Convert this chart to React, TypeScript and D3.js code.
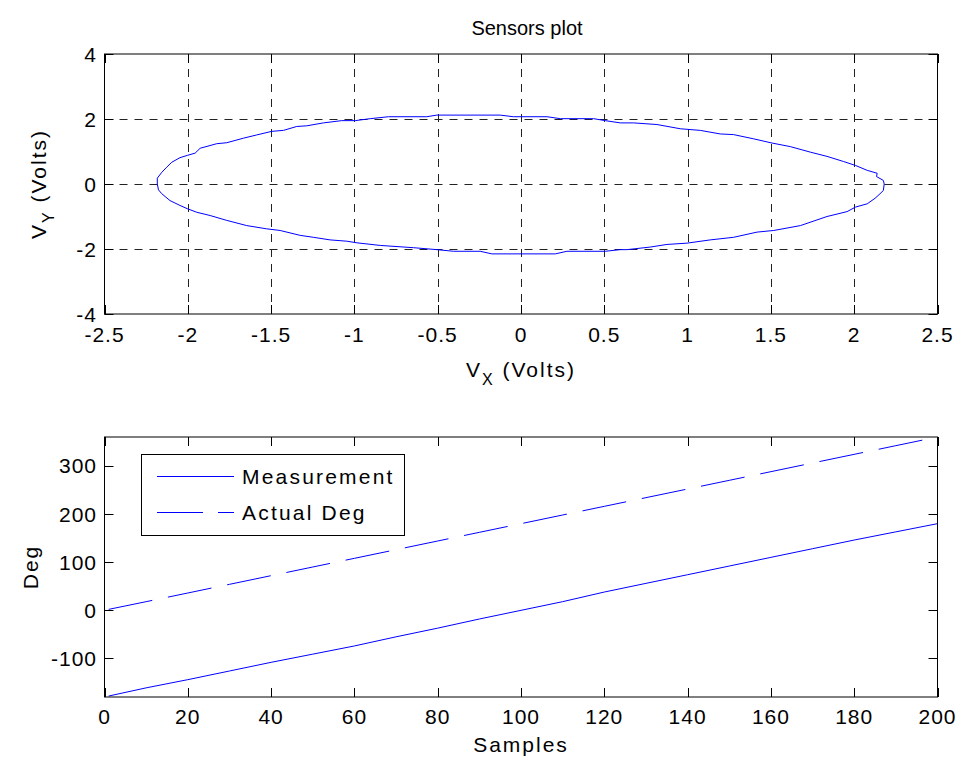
import React from 'react';
import * as d3 from 'd3';

// Sensor loop (Vx, Vy)
const vx = [2.18, 2.175, 2.134, 2.138, 2.078, 2.008, 1.937, 1.837, 1.737, 1.617, 1.507, 1.396, 1.276, 1.196, 1.076, 0.956, 0.816, 0.676, 0.596, 0.506, 0.436, 0.236, 0.156, -0.045, -0.125, -0.505, -0.566, -0.795, -0.905, -0.995, -1.076, -1.186, -1.286, -1.346, -1.426, -1.496, -1.586, -1.666, -1.766, -1.826, -1.926, -1.956, -2.003, -2.047, -2.096, -2.126, -2.156, -2.183, -2.183, -2.176, -2.156, -2.107, -2.047, -2.003, -1.946, -1.866, -1.766, -1.646, -1.526, -1.446, -1.326, -1.246, -1.146, -1.045, -0.985, -0.845, -0.645, -0.505, -0.405, -0.245, -0.175, 0.036, 0.206, 0.276, 0.506, 0.596, 0.636, 0.776, 0.876, 0.996, 1.136, 1.276, 1.417, 1.517, 1.677, 1.837, 1.957, 2.008, 2.078, 2.125, 2.155, 2.175, 2.18];
const vy = [0.0, 0.11, 0.23, 0.33, 0.42, 0.57, 0.69, 0.85, 0.98, 1.15, 1.26, 1.39, 1.52, 1.54, 1.65, 1.70, 1.83, 1.88, 1.88, 1.95, 2.01, 2.01, 2.07, 2.07, 2.12, 2.12, 2.07, 2.07, 2.01, 1.95, 1.95, 1.88, 1.79, 1.77, 1.65, 1.62, 1.51, 1.41, 1.27, 1.24, 1.10, 0.95, 0.88, 0.81, 0.67, 0.52, 0.36, 0.18, 0.0, -0.18, -0.30, -0.51, -0.66, -0.76, -0.87, -0.97, -1.12, -1.28, -1.38, -1.43, -1.58, -1.64, -1.72, -1.76, -1.81, -1.89, -1.96, -2.02, -2.07, -2.07, -2.15, -2.15, -2.15, -2.07, -2.07, -2.02, -2.02, -1.94, -1.86, -1.82, -1.72, -1.64, -1.48, -1.43, -1.28, -1.00, -0.85, -0.71, -0.61, -0.44, -0.30, -0.20, 0.0];

// Angle vs samples
const samples = [1, 10, 20, 30, 40, 50, 60, 70, 80, 90, 100, 110, 120, 130, 140, 150, 160, 170, 180, 190, 200];
const measurement = [-178, -161, -144, -126, -108, -91, -74, -55, -37, -18, 0, 18, 38, 56, 74, 92, 110, 128, 146, 163, 180];
const actualDeg = [2, 18, 36, 54, 72, 90, 108, 126, 144, 162, 180, 198, 216, 234, 252, 270, 288, 306, 324, 342, 360];

const xTicksTop = [-2.5, -2, -1.5, -1, -0.5, 0, 0.5, 1, 1.5, 2, 2.5];
const yTicksTop = [-4, -2, 0, 2, 4];
const xTicksBottom = [0, 20, 40, 60, 80, 100, 120, 140, 160, 180, 200];
const yTicksBottom = [-100, 0, 100, 200, 300];
const legendLabels = ['Measurement', 'Actual Deg'];

const FONT = 'Arial, "Liberation Sans", Helvetica, sans-serif';
const TICK_FS = 21;
const LS = 1;
const BLUE = '#0000ff';

const left = 104.5, right = 937.5;

export default function App() {
  // top subplot
  const x1 = d3.scaleLinear().domain([-2.5, 2.5]).range([left, right]);
  const y1 = d3.scaleLinear().domain([-4, 4]).range([314, 54]);
  // bottom subplot
  const x2 = d3.scaleLinear().domain([0, 200]).range([left, right]);
  const y2 = d3.scaleLinear().domain([-180, 360]).range([697, 437]);

  const loop = d3.line<number>().x((_, i) => x1(vx[i])).y((_, i) => y1(vy[i]))(vx) || '';
  const degLine = (vals: number[]) =>
    d3.line<number>().x(d => x2(d)).y((_, i) => y2(vals[i]))(samples) || '';

  const tick = 9;
  const [t1, b1] = y1.range().slice().reverse() as number[];
  const [t2, b2] = y2.range().slice().reverse() as number[];

  return (
    <svg width={963} height={764} style={{ position: 'absolute', left: 0, top: 0, background: '#fff' }}
      fontFamily={FONT}>
      <rect width={963} height={764} fill="#fff" />
      {/* ---------- top plot ---------- */}
      <text x={(left + right) / 2 + 6} y={35} textAnchor="middle" fontSize={20}>Sensors plot</text>
      <g stroke="#222" strokeWidth={1} strokeDasharray="8,7">
        {xTicksTop.slice(1, -1).map(v => (
          <line key={'gx' + v} x1={Math.round(x1(v)) + 0.5} x2={Math.round(x1(v)) + 0.5} y1={t1} y2={b1} />
        ))}
        {yTicksTop.slice(1, -1).map(v => (
          <line key={'gy' + v} x1={left} x2={right} y1={Math.round(y1(v)) + 0.5} y2={Math.round(y1(v)) + 0.5} />
        ))}
      </g>
      <g stroke="#000" strokeWidth={1}>
        {xTicksTop.map(v => (
          <g key={'tx' + v}>
            <line x1={Math.round(x1(v)) + 0.5} x2={Math.round(x1(v)) + 0.5} y1={b1} y2={b1 - tick} />
            <line x1={Math.round(x1(v)) + 0.5} x2={Math.round(x1(v)) + 0.5} y1={t1} y2={t1 + tick} />
          </g>
        ))}
        {yTicksTop.map(v => (
          <g key={'ty' + v}>
            <line x1={left} x2={left + tick} y1={Math.round(y1(v)) + 0.5} y2={Math.round(y1(v)) + 0.5} />
            <line x1={right} x2={right - tick} y1={Math.round(y1(v)) + 0.5} y2={Math.round(y1(v)) + 0.5} />
          </g>
        ))}
      </g>
      <path d={loop} fill="none" stroke={BLUE} strokeWidth={1} />
      <rect x={left} y={t1} width={right - left} height={b1 - t1} fill="none" stroke="#000" strokeWidth={1} />
      <g fontSize={TICK_FS} letterSpacing={LS}>
        {xTicksTop.map(v => (
          <text key={'lx' + v} x={x1(v)} y={342} textAnchor="middle">{v}</text>
        ))}
        {yTicksTop.map(v => (
          <text key={'ly' + v} x={97} y={y1(v) + 7.5} textAnchor="end">{v}</text>
        ))}
      </g>
      <text x={(left + right) / 2} y={377} textAnchor="middle" fontSize={TICK_FS} letterSpacing={2}>
        V<tspan fontSize={16} dy={8}>X</tspan><tspan dy={-8}> (Volts)</tspan>
      </text>
      <text transform={`translate(46,${y1(0)}) rotate(-90)`} textAnchor="middle" fontSize={TICK_FS} letterSpacing={2}>
        V<tspan fontSize={16} dy={8}>Y</tspan><tspan dy={-8}> (Volts)</tspan>
      </text>

      {/* ---------- bottom plot ---------- */}
      <g stroke="#000" strokeWidth={1}>
        {xTicksBottom.map(v => (
          <g key={'bx' + v}>
            <line x1={Math.round(x2(v)) + 0.5} x2={Math.round(x2(v)) + 0.5} y1={b2} y2={b2 - tick} />
            <line x1={Math.round(x2(v)) + 0.5} x2={Math.round(x2(v)) + 0.5} y1={t2} y2={t2 + tick} />
          </g>
        ))}
        {yTicksBottom.map(v => (
          <g key={'by' + v}>
            <line x1={left} x2={left + tick} y1={Math.round(y2(v)) + 0.5} y2={Math.round(y2(v)) + 0.5} />
            <line x1={right} x2={right - tick} y1={Math.round(y2(v)) + 0.5} y2={Math.round(y2(v)) + 0.5} />
          </g>
        ))}
      </g>
      <defs>
        <clipPath id="clipB">
          <rect x={left} y={t2} width={right - left} height={b2 - t2} />
        </clipPath>
      </defs>
      <g clipPath="url(#clipB)" fill="none" stroke={BLUE} strokeWidth={1}>
        <path d={degLine(measurement)} />
        <path d={degLine(actualDeg)} strokeDasharray="44.5,16" />
      </g>
      <rect x={left} y={t2} width={right - left} height={b2 - t2} fill="none" stroke="#000" strokeWidth={1} />
      <g fontSize={TICK_FS} letterSpacing={LS}>
        {xTicksBottom.map(v => (
          <text key={'blx' + v} x={x2(v)} y={724} textAnchor="middle">{v}</text>
        ))}
        {yTicksBottom.map(v => (
          <text key={'bly' + v} x={97} y={y2(v) + 7.5} textAnchor="end">{v}</text>
        ))}
      </g>
      <text x={(left + right) / 2} y={752} textAnchor="middle" fontSize={TICK_FS} letterSpacing={2}>Samples</text>
      <text transform={`translate(38,${y2(90)}) rotate(-90)`} textAnchor="middle" fontSize={TICK_FS} letterSpacing={2}>Deg</text>

      {/* legend */}
      <g>
        <rect x={141.5} y={454.5} width={263} height={81} fill="#fff" stroke="#000" strokeWidth={1} />
        {legendLabels.map((lab, i) => (
          <g key={lab} transform={`translate(0,${476 + i * 36})`}>
            <line x1={157} x2={234} y1={0.5} y2={0.5} stroke={BLUE} strokeWidth={1}
              strokeDasharray={i === 1 ? '46,15' : undefined} />
            <text x={242} y={8} fontSize={TICK_FS} letterSpacing={2.2}>{lab}</text>
          </g>
        ))}
      </g>
    </svg>
  );
}
